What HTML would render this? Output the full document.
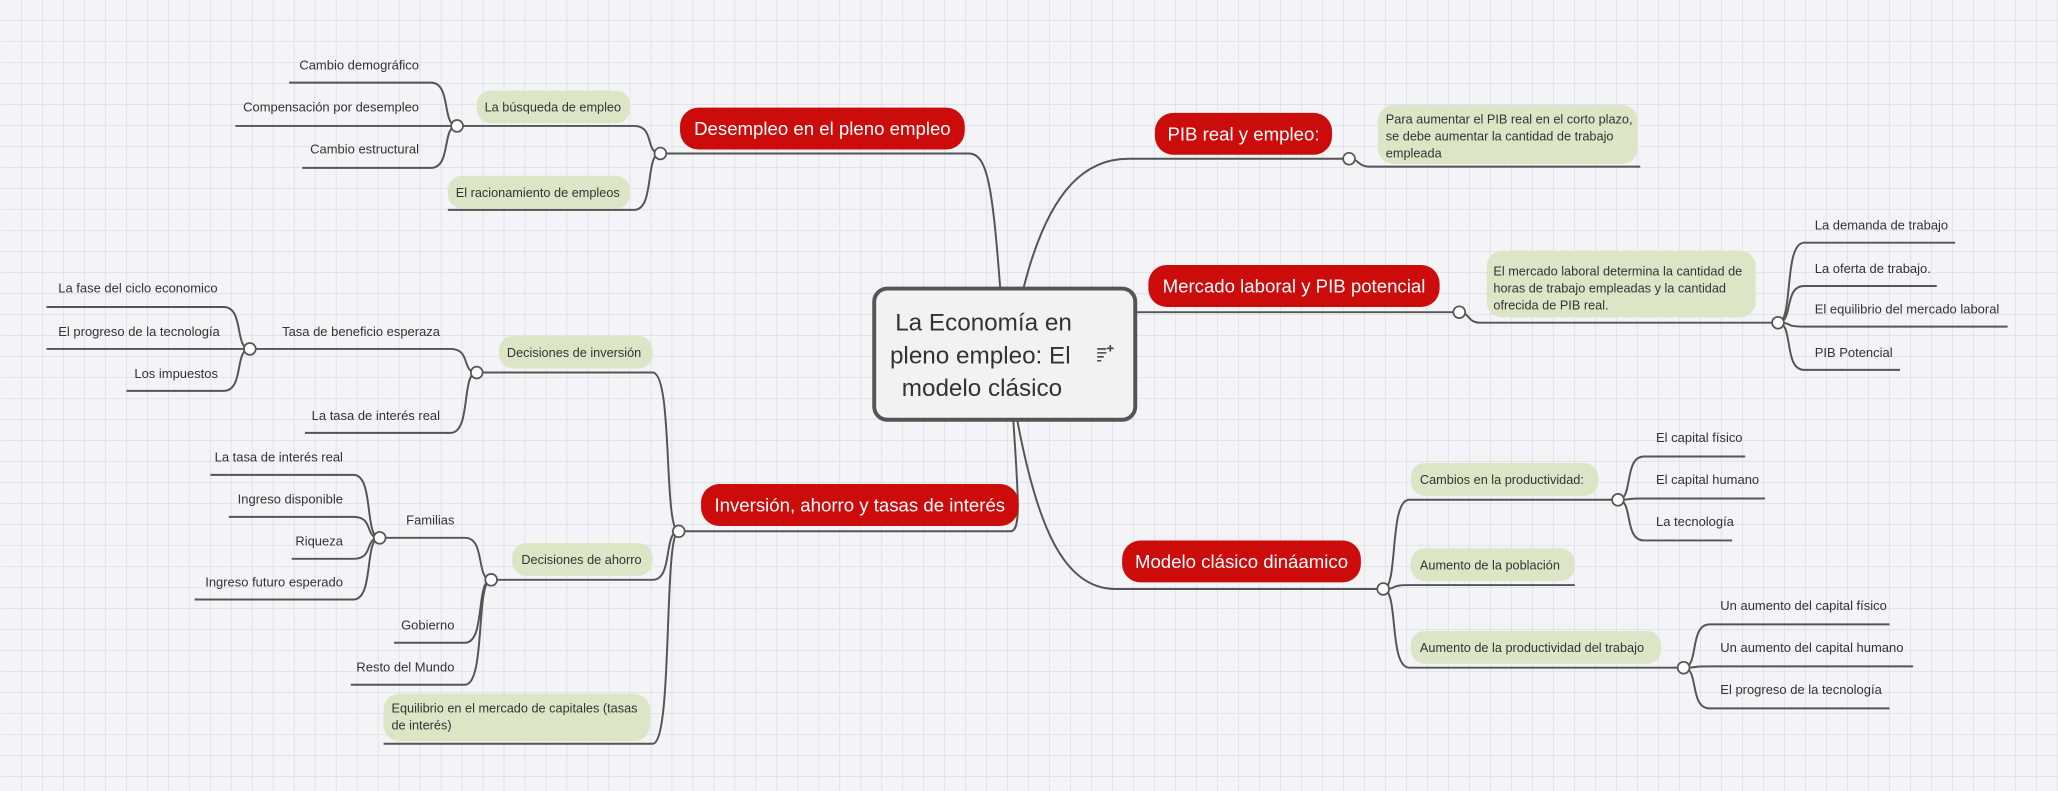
<!DOCTYPE html>
<html><head><meta charset="utf-8"><style>
html,body{margin:0;padding:0;background:#f4f3f5;}
svg{display:block;}
text{font-family:"Liberation Sans",sans-serif;fill:#333;}
</style></head><body>
<svg width="2058" height="791" viewBox="0 0 1568 603" xmlns="http://www.w3.org/2000/svg">
<defs>
<pattern id="g" width="16" height="16" patternUnits="userSpaceOnUse">
<path d="M16 0V16M0 16H16" stroke="#cdd6e8" stroke-width="0.8" fill="none"/>
</pattern>
</defs>
<rect width="1568" height="603" fill="#f4f3f5"/>
<rect width="1568" height="603" fill="url(#g)"/>
<g fill="none" stroke="#555" stroke-width="1.5">
<path d="M762,219 C756,140 752,117 738,117 L503,117"/>
<path d="M503,117 C491,117 499,96 483,96 L348,96"/>
<path d="M503,117 C491,117 499,160 483,160 L341,160"/>
<path d="M348,96 C336,96 344,63 328,63 L220,63"/>
<path d="M348,96 L179,96"/>
<path d="M348,96 C336,96 344,128 328,128 L230,128"/>
<path d="M780,219 C800,140 830,121 860,121 L1028,121"/>
<path d="M1028,121 C1036,121 1034,127 1044,127 L1250,127"/>
<path d="M865,238 L1112,238"/>
<path d="M1112,238 C1120,238 1118,246 1128,246 L1355,246"/>
<path d="M1355,246 C1367,246 1359,185 1375,185 L1490,185"/>
<path d="M1355,246 C1367,246 1359,218 1375,218 L1476,218"/>
<path d="M1355,246 C1367,246 1359,249 1375,249 L1530,249"/>
<path d="M1355,246 C1367,246 1359,282 1375,282 L1448,282"/>
<path d="M772,320 C776,380 778,405 770,405 L517,405"/>
<path d="M517,405 C505,405 513,284 497,284 L363,284"/>
<path d="M517,405 C505,405 513,442 497,442 L374,442"/>
<path d="M517,405 C505,405 513,567 497,567 L292,567"/>
<path d="M363,284 C351,284 359,266 343,266 L190,266"/>
<path d="M363,284 C351,284 359,330 343,330 L232,330"/>
<path d="M190,266 C178,266 186,234 170,234 L35,234"/>
<path d="M190,266 L35,266"/>
<path d="M190,266 C178,266 186,298 170,298 L96,298"/>
<path d="M374,442 C362,442 370,410 354,410 L289,410"/>
<path d="M374,442 C362,442 370,490 354,490 L300,490"/>
<path d="M374,442 C362,442 370,522 354,522 L267,522"/>
<path d="M289,410 C277,410 285,362 269,362 L160,362"/>
<path d="M289,410 C277,410 285,394 269,394 L174,394"/>
<path d="M289,410 C277,410 285,426 269,426 L222,426"/>
<path d="M289,410 C277,410 285,457 269,457 L148,457"/>
<path d="M775,320 C790,400 810,449 850,449 L1054,449"/>
<path d="M1054,449 C1066,449 1058,381 1074,381 L1233,381"/>
<path d="M1054,449 C1066,449 1058,446 1074,446 L1200,446"/>
<path d="M1054,449 C1066,449 1058,509 1074,509 L1283,509"/>
<path d="M1233,381 C1245,381 1237,348 1253,348 L1330,348"/>
<path d="M1233,381 C1245,381 1237,380 1253,380 L1345,380"/>
<path d="M1233,381 C1245,381 1237,412 1253,412 L1320,412"/>
<path d="M1283,509 C1295,509 1287,476 1303,476 L1440,476"/>
<path d="M1283,509 C1295,509 1287,508 1303,508 L1458,508"/>
<path d="M1283,509 C1295,509 1287,540 1303,540 L1440,540"/>
</g>
<g fill="#fff" stroke="#555" stroke-width="1.3">
<circle cx="503" cy="117" r="4.5"/><circle cx="348" cy="96" r="4.5"/>
<circle cx="1028" cy="121" r="4.5"/><circle cx="1112" cy="238" r="4.5"/><circle cx="1355" cy="246" r="4.5"/>
<circle cx="517" cy="405" r="4.5"/><circle cx="363" cy="284" r="4.5"/><circle cx="190" cy="266" r="4.5"/>
<circle cx="374" cy="442" r="4.5"/><circle cx="289" cy="410" r="4.5"/>
<circle cx="1054" cy="449" r="4.5"/><circle cx="1233" cy="381" r="4.5"/><circle cx="1283" cy="509" r="4.5"/>
</g>
<rect x="666" y="220" width="199" height="100" rx="10" fill="#f2f2f2" stroke="#555" stroke-width="3"/>
<g font-size="18.5" fill="#333">
<text x="682" y="252">La Economía en</text>
<text x="678" y="277">pleno empleo: El</text>
<text x="687" y="302">modelo clásico</text>
</g>
<g stroke="#444" stroke-width="1.2"><path d="M836,266h7M836,269h7M836,272h5M836,275h3M846,263v5M843.5,265.5h5"/></g>
<g fill="#cc0b0b">
<rect x="518" y="82" width="217" height="32" rx="14"/>
<rect x="880" y="86" width="135" height="32" rx="14"/>
<rect x="875" y="202" width="222" height="32" rx="14"/>
<rect x="534" y="369" width="242" height="32" rx="14"/>
<rect x="855" y="412" width="182" height="32" rx="14"/>
</g>
<g font-size="14.2" text-anchor="middle">
<text x="626.5" y="103" style="fill:#fff">Desempleo en el pleno empleo</text>
<text x="947.5" y="107" style="fill:#fff">PIB real y empleo:</text>
<text x="986" y="223" style="fill:#fff">Mercado laboral y PIB potencial</text>
<text x="655" y="390" style="fill:#fff">Inversión, ahorro y tasas de interés</text>
<text x="946" y="433" style="fill:#fff">Modelo clásico dináamico</text>
</g>
<g fill="#dce6c6">
<rect x="363" y="69" width="117" height="25" rx="11"/>
<rect x="341" y="134" width="139" height="25" rx="11"/>
<rect x="1050" y="80" width="198" height="45" rx="12"/>
<rect x="1133" y="191" width="205" height="51" rx="12"/>
<rect x="380" y="256" width="117" height="25" rx="11"/>
<rect x="390" y="414" width="107" height="25" rx="11"/>
<rect x="292" y="529" width="203" height="36" rx="12"/>
<rect x="1075" y="353" width="143" height="25" rx="11"/>
<rect x="1075" y="418" width="125" height="25" rx="11"/>
<rect x="1075" y="481" width="191" height="25" rx="11"/>
</g>
<g font-size="9.7">
<text x="369" y="85">La búsqueda de empleo</text>
<text x="347" y="150">El racionamiento de empleos</text>
<text x="1056" y="94">Para aumentar el PIB real en el corto plazo,</text>
<text x="1056" y="107">se debe aumentar la cantidad de trabajo</text>
<text x="1056" y="120">empleada</text>
<text x="1138" y="210">El mercado laboral determina la cantidad de</text>
<text x="1138" y="223">horas de trabajo empleadas y la cantidad</text>
<text x="1138" y="236">ofrecida de PIB real.</text>
<text x="386" y="272">Decisiones de inversión</text>
<text x="397" y="430">Decisiones de ahorro</text>
<text x="298" y="543">Equilibrio en el mercado de capitales (tasas</text>
<text x="298" y="556">de interés)</text>
<text x="1082" y="369">Cambios en la productividad:</text>
<text x="1082" y="434">Aumento de la población</text>
<text x="1082" y="497">Aumento de la productividad del trabajo</text>
</g>
<g font-size="9.9">
<g text-anchor="end">
<text x="319" y="53">Cambio demográfico</text>
<text x="319" y="85">Compensación por desempleo</text>
<text x="319" y="117">Cambio estructural</text>
<text x="335" y="256">Tasa de beneficio esperaza</text>
<text x="335" y="320">La tasa de interés real</text>
<text x="346" y="400">Familias</text>
<text x="346" y="480">Gobierno</text>
<text x="346" y="512">Resto del Mundo</text>
<text x="261" y="352">La tasa de interés real</text>
<text x="261" y="384">Ingreso disponible</text>
<text x="261" y="416">Riqueza</text>
<text x="261" y="447">Ingreso futuro esperado</text>
</g>
<text x="44" y="223">La fase del ciclo economico</text>
<text x="44" y="256">El progreso de la tecnología</text>
<text x="102" y="288">Los impuestos</text>
<text x="1383" y="175">La demanda de trabajo</text>
<text x="1383" y="208">La oferta de trabajo.</text>
<text x="1383" y="239">El equilibrio del mercado laboral</text>
<text x="1383" y="272">PIB Potencial</text>
<text x="1262" y="337">El capital físico</text>
<text x="1262" y="369">El capital humano</text>
<text x="1262" y="401">La tecnología</text>
<text x="1311" y="465">Un aumento del capital físico</text>
<text x="1311" y="497">Un aumento del capital humano</text>
<text x="1311" y="529">El progreso de la tecnología</text>
</g>
</svg>
</body></html>
